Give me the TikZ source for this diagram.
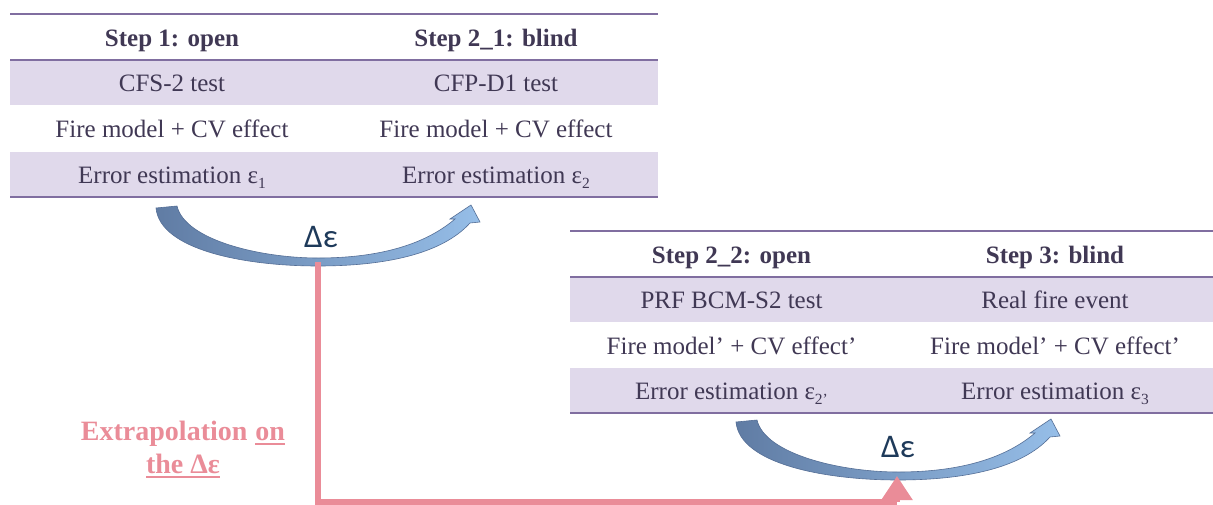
\documentclass[tikz,border=0pt]{standalone}
\usepackage{fontspec}
\setmainfont{Liberation Serif}
\newfontfamily\labfont{Carlito}
\usetikzlibrary{arrows.meta}
\definecolor{tabtext}{RGB}{64,56,84}
\definecolor{tabrule}{RGB}{128,110,160}
\definecolor{tabshade}{RGB}{224,217,235}
\definecolor{arrdark}{RGB}{96,124,164}
\definecolor{arrlight}{RGB}{150,190,232}
\definecolor{arredge}{RGB}{84,110,150}
\definecolor{deltacol}{RGB}{30,58,90}
\definecolor{pinkc}{RGB}{234,140,152}
\newcommand{\epsub}[1]{ε\raisebox{-5pt}{\fontsize{15.5}{15.5}\selectfont #1}}
\newcommand{\myul}[1]{\leavevmode\setbox0\hbox{#1}\rlap{\rule[-5pt]{\wd0}{2.4pt}}\box0}
\newcommand{\bluecurve}{%
  (156,208) -- (177,206)
  .. controls (185,240) and (260,258) .. (318,258)
  .. controls (385,258) and (428,242) .. (455,219)
  -- (450,219) -- (471,205) -- (480,222) -- (470,223)
  .. controls (442,254) and (385,266) .. (318,266)
  .. controls (245,266) and (160,250) .. (156,208) -- cycle}
\tikzset{
 cell/.style={anchor=base, text=tabtext, font=\fontsize{25}{25}\selectfont, inner sep=0pt},
 headcell/.style={cell, font=\fontsize{25}{25}\selectfont\bfseries},
 rulel/.style={draw=tabrule, line width=2.2pt},
 shaderow/.style={fill=tabshade},
 curvarrow/.style={left color=arrdark, right color=arrlight, draw=arredge, line width=0.6pt},
 deltalab/.style={text=deltacol, font=\labfont\fontsize{33}{33}\selectfont, inner sep=0pt},
 pinkline/.style={draw=pinkc, line width=5.5pt},
 extratext/.style={anchor=base, text=pinkc, font=\fontsize{28}{28}\selectfont\bfseries, inner sep=0pt},
}
\begin{document}
\begin{tikzpicture}[x=1pt,y=-1pt]
\useasboundingbox[fill=white] (0,0) rectangle (1213,504);
% ---------- table 1 ----------
\fill[shaderow] (10,60) rectangle (658,105);
\fill[shaderow] (10,152) rectangle (658,197);
\draw[rulel] (10,14) -- (658,14);
\draw[rulel] (10,60) -- (658,60);
\draw[rulel] (10,197) -- (658,197);
\node[headcell] (h11) at (172,46) {Step 1: open};
\node[headcell] (h12) at (496,46) {Step 2\_1: blind};
\node[cell] (a11) at (172,91.5) {CFS-2 test};
\node[cell] (a12) at (496,91.5) {CFP-D1 test};
\node[cell] (b11) at (172,137.5) {Fire model + CV effect};
\node[cell] (b12) at (496,137.5) {Fire model + CV effect};
\node[cell] (c11) at (172,183.5) {Error estimation \epsub{1}};
\node[cell] (c12) at (496,183.5) {Error estimation \epsub{2}};
% ---------- table 2 ----------
\fill[shaderow] (570,277) rectangle (1213,322);
\fill[shaderow] (570,368) rectangle (1213,413);
\draw[rulel] (570,231) -- (1213,231);
\draw[rulel] (570,277) -- (1213,277);
\draw[rulel] (570,413) -- (1213,413);
\node[headcell] (h21) at (731.5,263) {Step 2\_2: open};
\node[headcell] (h22) at (1055,263) {Step 3: blind};
\node[cell] (a21) at (731.5,308.5) {PRF BCM-S2 test};
\node[cell] (a22) at (1055,308.5) {Real fire event};
\node[cell] (b21) at (731.5,354) {Fire model’ + CV effect’};
\node[cell] (b22) at (1055,354) {Fire model’ + CV effect’};
\node[cell] (c21) at (731.5,399.5) {Error estimation \epsub{2’}};
\node[cell] (c22) at (1055,399.5) {Error estimation \epsub{3}};
% ---------- curved arrows ----------
\path[curvarrow] \bluecurve;
\begin{scope}[shift={(580,214)}]
\path[curvarrow] \bluecurve;
\end{scope}
\node[deltalab] (d1) at (321,237) {Δε};
\node[deltalab] (d2) at (898,447) {Δε};
% ---------- extrapolation connector ----------
\coordinate (p1) at (318,262);
\coordinate (p2) at (318,502);
\coordinate (p3) at (897,502);
\coordinate (p4) at (897,476);
\draw[pinkline] (p1) -- (p2) -- (p3);
\draw[pinkline, -{Triangle[width=30pt,length=24pt]}] (p3) -- (p4);
\node[extratext] (e1) at (183,440) {Extrapolation\hspace{8pt}\myul{on}};
\node[extratext] (e2) at (183,473) {\myul{the Δε}};
\end{tikzpicture}
\end{document}
